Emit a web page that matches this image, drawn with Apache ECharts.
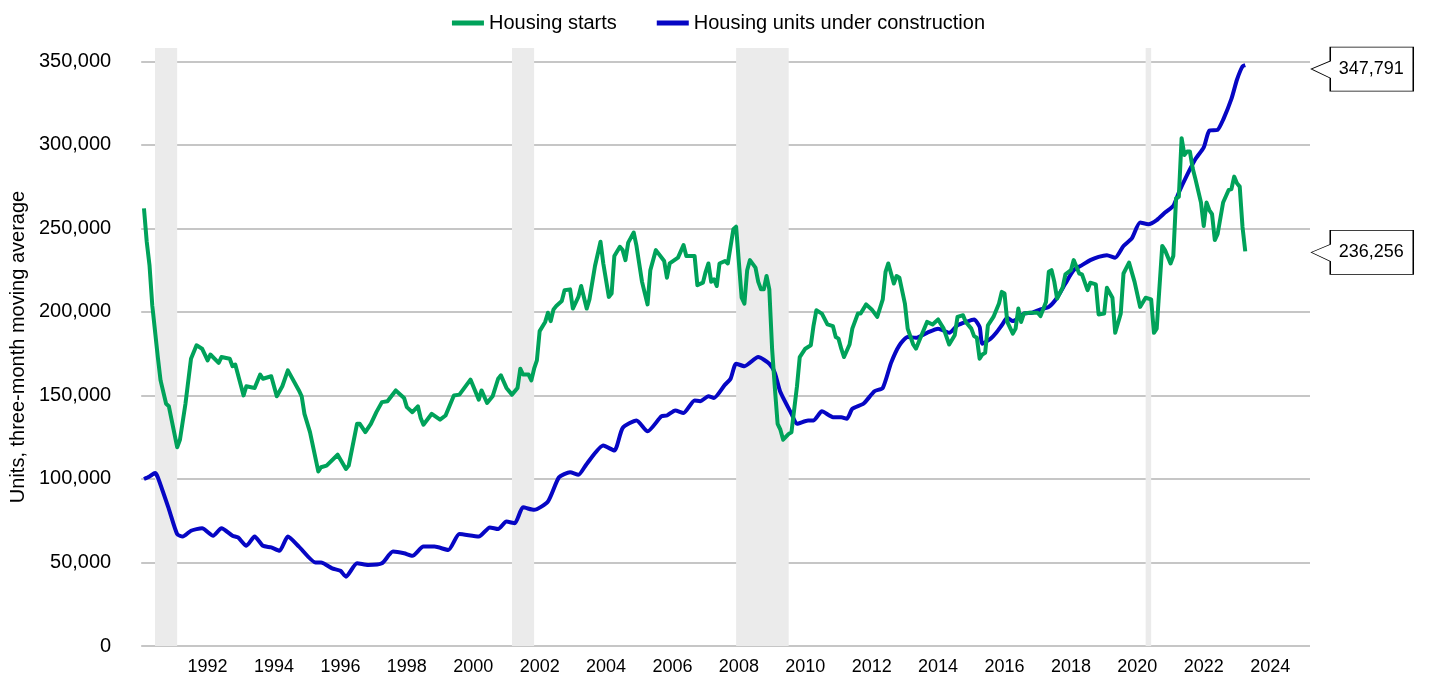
<!DOCTYPE html>
<html>
<head>
<meta charset="utf-8">
<script src="https://cdn.jsdelivr.net/npm/echarts@6/dist/echarts.min.js"></script>
<style>
  html, body { margin: 0; padding: 0; background: #fff; }
  #chart { width: 1437px; height: 687px; }
</style>
</head>
<body>
<div id="chart"></div>
<script>
// Housing starts, three-month moving average (month, units)
const startsMonths = [
  '1990-02','1990-03','1990-04','1990-05','1990-07','1990-08','1990-10','1990-11','1991-02','1991-03',
  '1991-05','1991-07','1991-09','1991-11','1992-01','1992-02','1992-05','1992-06','1992-09','1992-10',
  '1992-11','1993-02','1993-03','1993-06','1993-08','1993-09','1993-12','1994-02','1994-04','1994-06',
  '1994-10','1994-11','1994-12','1995-02','1995-05','1995-06','1995-08','1995-12','1996-03','1996-04',
  '1996-07','1996-08','1996-10','1996-12','1997-02','1997-04','1997-06','1997-09','1997-12','1998-01',
  '1998-03','1998-05','1998-06','1998-07','1998-10','1999-01','1999-03','1999-06','1999-08','1999-12',
  '2000-03','2000-04','2000-06','2000-08','2000-10','2000-11','2001-01','2001-03','2001-05','2001-06',
  '2001-07','2001-09','2001-10','2001-11','2001-12','2002-01','2002-03','2002-04','2002-05','2002-06',
  '2002-07','2002-09','2002-10','2002-12','2003-01','2003-03','2003-04','2003-06','2003-07','2003-09',
  '2003-11','2003-12','2004-02','2004-03','2004-04','2004-06','2004-07','2004-08','2004-09','2004-11',
  '2004-12','2005-02','2005-04','2005-05','2005-07','2005-10','2005-11','2005-12','2006-03','2006-05',
  '2006-06','2006-09','2006-10','2006-12','2007-01','2007-02','2007-03','2007-04','2007-05','2007-06',
  '2007-08','2007-09','2007-11','2007-12','2008-02','2008-03','2008-04','2008-05','2008-07','2008-08',
  '2008-09','2008-10','2008-11','2008-12','2009-01','2009-02','2009-03','2009-04','2009-05','2009-07',
  '2009-08','2009-10','2009-11','2010-01','2010-03','2010-04','2010-05','2010-07','2010-09','2010-11',
  '2010-12','2011-01','2011-02','2011-03','2011-05','2011-06','2011-08','2011-09','2011-11','2012-01',
  '2012-03','2012-05','2012-06','2012-07','2012-09','2012-10','2012-11','2013-01','2013-02','2013-04',
  '2013-05','2013-07','2013-09','2013-11','2014-01','2014-03','2014-05','2014-07','2014-08','2014-10',
  '2014-11','2015-01','2015-02','2015-03','2015-04','2015-05','2015-06','2015-07','2015-09','2015-11',
  '2015-12','2016-01','2016-02','2016-04','2016-05','2016-06','2016-07','2016-08','2016-10','2017-01',
  '2017-02','2017-04','2017-05','2017-06','2017-07','2017-08','2017-10','2017-11','2018-01','2018-02',
  '2018-03','2018-04','2018-05','2018-07','2018-08','2018-10','2018-11','2019-01','2019-02','2019-04',
  '2019-05','2019-07','2019-08','2019-10','2019-12','2020-02','2020-04','2020-06','2020-07','2020-08',
  '2020-10','2020-11','2021-01','2021-02','2021-03','2021-04','2021-05','2021-06','2021-07','2021-08',
  '2021-09','2021-10','2021-12','2022-01','2022-02','2022-03','2022-04','2022-05','2022-06','2022-08',
  '2022-10','2022-11','2022-12','2023-01','2023-02','2023-03','2023-04'
];
const startsValues = [
  262000, 242000, 228000, 204000, 173000, 159000, 145000, 143500, 119000, 123500,
  145000, 172000, 180000, 178000, 171000, 174500, 169500, 173000, 172000, 167500,
  168500, 150000, 155500, 154500, 162500, 160000, 161500, 149500, 155500, 165000,
  153000, 149500, 139000, 128000, 104500, 107000, 108000, 114500, 106000, 108000,
  133000, 133000, 128000, 133000, 140000, 146000, 146500, 153000, 148500, 143000,
  140000, 143500, 136500, 132500, 139000, 135500, 138000, 150000, 150500, 159500,
  147500, 153000, 145500, 149500, 160000, 162000, 154500, 150500, 154500, 166000,
  162500, 162500, 159000, 166000, 171000, 188500, 194000, 199500, 194500, 201500,
  203500, 206500, 213000, 213500, 202000, 209000, 215500, 202000, 207500, 227500,
  242000, 229000, 209000, 211000, 233500, 239000, 237000, 231000, 241500, 247500,
  239500, 218000, 204500, 225000, 237000, 230500, 220500, 229000, 232500, 240000,
  233500, 233500, 216000, 217500, 224000, 229000, 218000, 219500, 215500, 229000,
  230500, 229000, 249500, 251000, 208500, 205000, 225000, 231000, 226500, 218000,
  213500, 213500, 221500, 213500, 178000, 154500, 133000, 129500, 123500, 127000,
  128000, 155500, 173000, 178000, 180000, 192000, 201000, 199000, 192500, 191500,
  185000, 184000, 178000, 173000, 180500, 190000, 199000, 199000, 204500, 201500,
  197000, 207500, 224000, 229000, 217000, 221500, 220500, 205000, 190000, 180500,
  178000, 186000, 194000, 192500, 195500, 190000, 180500, 186000, 197000, 198000,
  194000, 190000, 185500, 184500, 172000, 174500, 175500, 192000, 197000, 205000,
  212000, 211000, 194000, 187000, 190000, 202000, 194000, 199000, 199500, 199500,
  197500, 206000, 224000, 225000, 218000, 208000, 214500, 222500, 225000, 231000,
  227000, 223000, 222500, 213000, 217500, 216500, 198500, 199000, 214500, 208500,
  187500, 199000, 223000, 229500, 218000, 203000, 208500, 207500, 187500, 190000,
  239500, 237000, 229000, 233500, 268000, 269000, 304000, 294000, 296000, 296000,
  286000, 279500, 265500, 251500, 265500, 261000, 258500, 243000, 246500, 265500,
  273000, 273500, 281000, 277000, 275000, 251000, 236256
];

// Housing units under construction, three-month moving average (month, units)
const constructionMonths = [
  '1990-02','1990-04','1990-06','1990-07','1990-11','1991-02','1991-04','1991-07','1991-11','1992-03',
  '1992-06','1992-10','1992-12','1993-03','1993-06','1993-09','1993-12','1994-03','1994-06','1994-10',
  '1995-04','1995-06','1995-10','1996-01','1996-03','1996-07','1996-11','1997-04','1997-08','1997-12',
  '1998-03','1998-07','1998-11','1999-04','1999-08','2000-03','2000-07','2000-10','2001-01','2001-04',
  '2001-07','2001-11','2002-04','2002-08','2002-12','2003-03','2003-06','2003-12','2004-04','2004-07',
  '2004-12','2005-04','2005-09','2005-11','2006-02','2006-05','2006-09','2006-11','2007-02','2007-04',
  '2007-08','2007-10','2007-12','2008-03','2008-08','2008-12','2009-02','2009-04','2009-08','2009-10',
  '2010-02','2010-04','2010-07','2010-11','2011-02','2011-04','2011-06','2011-10','2012-02','2012-05',
  '2012-08','2012-11','2013-02','2013-05','2013-09','2014-01','2014-05','2014-08','2014-11','2015-02',
  '2015-04','2015-05','2015-08','2015-10','2015-12','2016-02','2016-04','2016-08','2016-11','2017-02',
  '2017-05','2017-08','2017-11','2018-02','2018-05','2018-08','2018-11','2019-02','2019-05','2019-08',
  '2019-11','2020-02','2020-05','2020-08','2020-11','2021-02','2021-04','2021-07','2021-10','2022-01',
  '2022-03','2022-06','2022-08','2022-11','2023-01','2023-03','2023-04'
];
const constructionValues = [
  100000, 101500, 103500, 101000, 82000, 67000, 65500, 69000, 70500, 66000,
  70500, 66000, 65000, 60000, 65500, 60000, 59000, 57000, 65500, 59500,
  50000, 50000, 46500, 45000, 41500, 49500, 48500, 49500, 56500, 55500,
  54000, 59500, 59500, 57500, 67000, 65500, 71000, 70000, 74500, 73500,
  83000, 81500, 86500, 101000, 104000, 102500, 109000, 120000, 117000, 130500,
  135000, 128500, 137500, 138000, 141000, 139500, 147000, 146500, 149500, 148500,
  156500, 160000, 169000, 167500, 173000, 169000, 163500, 152000, 139000, 133000,
  135000, 135000, 140500, 137000, 137000, 136000, 142000, 145000, 152500, 154500,
  169500, 180000, 185000, 184500, 187500, 190000, 187500, 192000, 194000, 195500,
  191000, 181000, 184000, 187500, 192000, 196500, 194500, 199000, 199500, 201500,
  203000, 208500, 217000, 225000, 228000, 231000, 233000, 234000, 232500, 239500,
  244000, 253500, 252500, 255000, 259500, 263500, 271500, 282000, 291500, 298500,
  308500, 309000, 315000, 327500, 339000, 347000, 347791
];

// Recession periods (shaded)
const recessionStarts = ['1990-06', '2001-03', '2007-12', '2020-04'];
const recessionEnds = ['1991-02', '2001-11', '2009-07', '2020-06'];

const seriesNames = ['Housing starts', 'Housing units under construction'];
const seriesColors = ['#00a25a', '#0606c4'];

function toYear(ym) {
  const [y, m] = ym.split('-').map(Number);
  return y + (m - 1) / 12;
}

function toPairs(months, values) {
  return months.map((m, i) => [toYear(m), values[i]]);
}

function fmt(v) {
  return String(Math.round(v)).replace(/\B(?=(\d{3})+(?!\d))/g, ',');
}

// callout box pointing at the last value of a series
function callout(months, values, dy) {
  const i = values.length - 1;
  return {
    silent: true,
    symbol: 'path://M0,22 L19,14 L19,0 L102,0 L102,44 L19,44 L19,31 Z',
    symbolSize: [102, 44],
    symbolOffset: [117, dy],
    itemStyle: { color: '#fff', borderColor: '#000', borderWidth: 1 },
    label: {
      show: true,
      position: 'inside',
      offset: [9, 0],
      color: '#000',
      fontSize: 18,
      formatter: (p) => fmt(p.value)
    },
    data: [{ coord: [toYear(months[i]), values[i]], value: values[i] }]
  };
}

const chart = echarts.init(document.getElementById('chart'));

const option = {
  animation: false,
  textStyle: { fontFamily: 'Liberation Sans, Arial, sans-serif' },
  legend: {
    data: seriesNames,
    top: 8,
    left: 'center',
    icon: 'rect',
    itemWidth: 32,
    itemHeight: 5,
    itemGap: 40,
    textStyle: { fontSize: 20, color: '#000' }
  },
  grid: {
    left: 140,
    right: 127,
    top: 48,
    bottom: 41
  },
  xAxis: {
    type: 'value',
    min: 1990,
    max: 2025.2,
    interval: 2,
    axisLine: { show: false },
    axisTick: { show: false },
    splitLine: { show: false },
    axisLabel: {
      margin: 12,
      fontSize: 18,
      color: '#000',
      showMinLabel: false,
      showMaxLabel: false,
      formatter: (v) => String(Math.round(v))
    }
  },
  yAxis: {
    type: 'value',
    min: 0,
    max: 358000,
    interval: 50000,
    name: 'Units, three-month moving average',
    nameLocation: 'middle',
    nameGap: 112,
    nameTextStyle: { fontSize: 20, color: '#000' },
    axisLine: { show: false },
    axisTick: { show: false },
    axisLabel: {
      margin: 30,
      fontSize: 20,
      color: '#000',
      showMaxLabel: false,
      formatter: (v) => fmt(v)
    },
    splitLine: {
      showMaxLine: false,
      lineStyle: { color: '#c6c6c6', width: 2 }
    }
  },
  series: [
    {
      name: 'recessions',
      type: 'line',
      data: [],
      z: 0,
      markArea: {
        silent: true,
        itemStyle: { color: '#ebebeb' },
        data: recessionStarts.map((s, i) => [{ xAxis: toYear(s) }, { xAxis: toYear(recessionEnds[i]) }])
      }
    },
    {
      name: seriesNames[1],
      type: 'line',
      z: 3,
      data: toPairs(constructionMonths, constructionValues),
      showSymbol: false,
      smooth: 0.2,
      color: seriesColors[1],
      lineStyle: { width: 4, color: seriesColors[1] },
      markPoint: callout(constructionMonths, constructionValues, 4)
    },
    {
      name: seriesNames[0],
      type: 'line',
      z: 4,
      data: toPairs(startsMonths, startsValues),
      showSymbol: false,
      color: seriesColors[0],
      lineStyle: { width: 4, color: seriesColors[0], join: 'round' },
      markPoint: callout(startsMonths, startsValues, 1)
    }
  ]
};

chart.setOption(option);
</script>
</body>
</html>
